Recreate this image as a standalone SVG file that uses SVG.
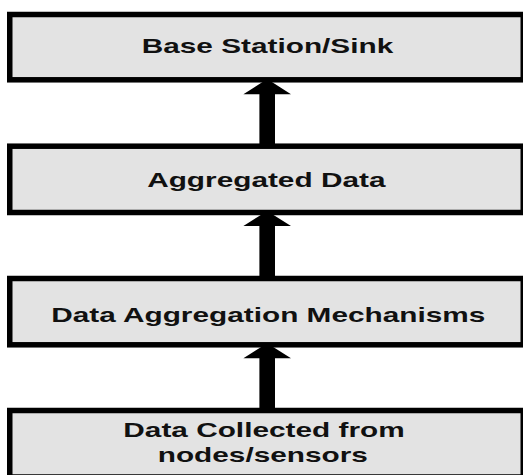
<svg xmlns="http://www.w3.org/2000/svg" width="523" height="475" viewBox="0 0 523 475">
<style>
.box{fill:#e3e3e3;stroke:#000;stroke-width:5.5}
.lbl{font-family:"Liberation Sans",Arial,sans-serif;font-weight:bold;font-size:20px;fill:#111;text-anchor:middle}
.arr{fill:#000}
</style>
<rect width="523" height="475" fill="#fff"/>
<g id="connectors">
<polygon class="arr" points="267.2,79 291,94.3 275,94.3 275,148 259.4,148 259.4,94.3 243.4,94.3"/>
<polygon class="arr" points="267.2,211 291,226 275,226 275,280 259.4,280 259.4,226 243.4,226"/>
<polygon class="arr" points="267.2,343.3 291,358.3 275,358.3 275,412 259.4,412 259.4,358.3 243.4,358.3"/>
</g>
<g id="node-sink">
<rect class="box" x="9.75" y="14.5" width="513.5" height="65.3"/>
<text class="lbl" transform="translate(267.5,52.7) scale(1.49,1)">Base Station/Sink</text>
</g>
<g id="node-aggregated">
<rect class="box" x="9.75" y="146.2" width="513.5" height="66.3"/>
<text class="lbl" transform="translate(266.3,186.5) scale(1.49,1)">Aggregated Data</text>
</g>
<g id="node-mechanisms">
<rect class="box" x="9.75" y="278.5" width="513.5" height="66.3"/>
<text class="lbl" transform="translate(268.3,321.7) scale(1.49,1)">Data Aggregation Mechanisms</text>
</g>
<g id="node-collected">
<rect class="box" x="9.75" y="410.5" width="513.5" height="66.5"/>
<text class="lbl" transform="translate(264,436.7) scale(1.49,1)">Data Collected from</text>
<text class="lbl" transform="translate(262.8,461.7) scale(1.49,1)">nodes/sensors</text>
</g>
</svg>
